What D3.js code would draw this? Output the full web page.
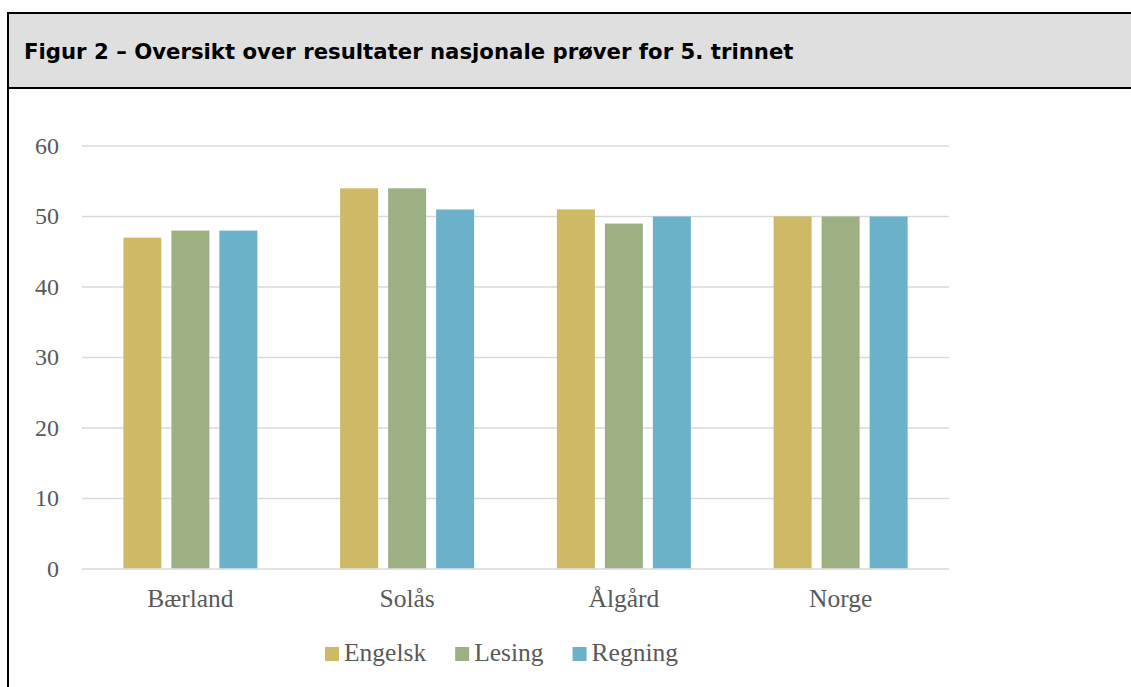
<!DOCTYPE html>
<html>
<head>
<meta charset="utf-8">
<script src="https://cdn.jsdelivr.net/npm/d3@7"></script>
<style>
  html, body { margin: 0; padding: 0; background: #fff; }
  svg { display: block; }
</style>
</head>
<body>
<script>
const title = "Figur 2 – Oversikt over resultater nasjonale prøver for 5. trinnet";
const categories = ["Bærland", "Solås", "Ålgård", "Norge"];
const seriesNames = ["Engelsk", "Lesing", "Regning"];
const engelsk = [47, 54, 51, 50];
const lesing = [48, 54, 49, 50];
const regning = [48, 51, 50, 50];
const yTicks = [0, 10, 20, 30, 40, 50, 60];
const colors = ["#CEB966", "#9CB084", "#6BB1C9"];

const seriesValues = [engelsk, lesing, regning];
const data = categories.map((c, i) => ({
  cat: c,
  vals: seriesNames.map((s, j) => ({ series: s, value: seriesValues[j][i], color: colors[j] }))
}));

const W = 1131, H = 687;
const svg = d3.select("body").append("svg").attr("width", W).attr("height", H);
svg.append("rect").attr("width", W).attr("height", H).attr("fill", "#fff");

// Frame and title band
svg.append("rect").attr("x", 8).attr("y", 13).attr("width", W + 20).attr("height", 75)
  .attr("fill", "#DFDFDF").attr("stroke", "#000").attr("stroke-width", 2);
svg.append("line").attr("x1", 8).attr("x2", 8).attr("y1", 12).attr("y2", H + 5)
  .attr("stroke", "#000").attr("stroke-width", 2);

const tt = svg.append("text").attr("x", 24).attr("y", 59)
  .attr("font-family", "'DejaVu Sans', Verdana, sans-serif")
  .attr("font-weight", "bold").attr("font-size", 17).attr("fill", "#000")
  .text(title);
const tw = tt.node().getComputedTextLength();
const targetW = 770;
tt.attr("font-size", 17 * targetW / tw);

// Scales
const plot = { left: 82, right: 949, top: 146, bottom: 569 };
const y = d3.scaleLinear().domain([0, 60]).range([plot.bottom, plot.top]);
const x0 = d3.scaleBand().domain(categories).range([plot.left, plot.right]).padding(0);
const x1 = d3.scaleBand().domain(seriesNames).range([0, x0.bandwidth()])
  .paddingInner(0.208).paddingOuter(0.862);

const labelFont = "'Liberation Serif', 'Times New Roman', serif";
const textColor = "#595959";

// Gridlines
svg.append("g").selectAll("line").data(yTicks).join("line")
  .attr("x1", plot.left).attr("x2", plot.right)
  .attr("y1", d => y(d)).attr("y2", d => y(d))
  .attr("stroke", "#D9D9D9").attr("stroke-width", 1.5);

// Y axis labels
svg.append("g").selectAll("text").data(yTicks).join("text")
  .attr("x", 59).attr("y", d => y(d) + 7.5)
  .attr("text-anchor", "end")
  .attr("font-family", labelFont).attr("font-size", 24).attr("fill", textColor)
  .text(d => d);

// Bars
const groups = svg.append("g").selectAll("g").data(data).join("g")
  .attr("transform", d => `translate(${x0(d.cat)},0)`);
groups.selectAll("rect").data(d => d.vals).join("rect")
  .attr("x", d => x1(d.series))
  .attr("width", x1.bandwidth())
  .attr("y", d => y(d.value))
  .attr("height", d => y(0) - y(d.value) - 0.75)
  .attr("fill", d => d.color);

// Category labels
svg.append("g").selectAll("text").data(categories).join("text")
  .attr("x", d => x0(d) + x0.bandwidth() / 2).attr("y", 607)
  .attr("text-anchor", "middle")
  .attr("font-family", labelFont).attr("font-size", 25.5).attr("fill", textColor)
  .text(d => d);

// Legend
const legend = svg.append("g");
let lx = 325;
seriesNames.forEach((s, i) => {
  legend.append("rect").attr("x", lx).attr("y", 647).attr("width", 14).attr("height", 14)
    .attr("fill", colors[i]);
  const t = legend.append("text").attr("x", lx + 19).attr("y", 661)
    .attr("font-family", labelFont).attr("font-size", 25.5).attr("fill", textColor)
    .text(s);
  lx += 19 + t.node().getComputedTextLength() + 29;
});
</script>
</body>
</html>
